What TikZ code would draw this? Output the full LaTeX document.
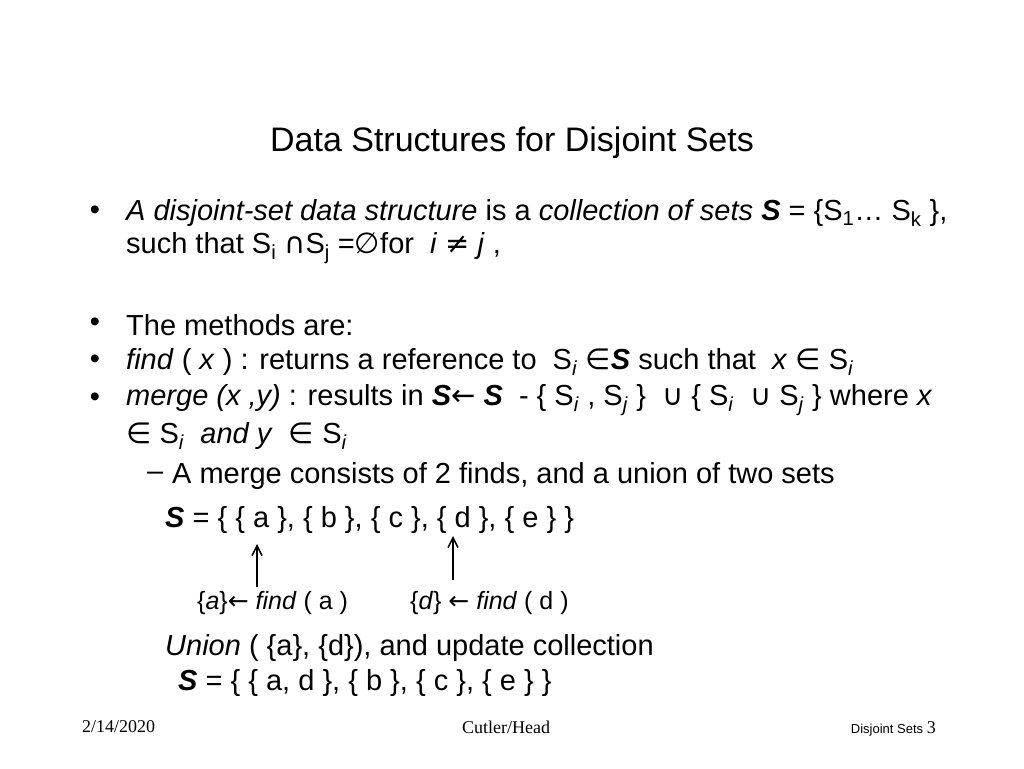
\documentclass[tikz,border=0pt]{standalone}
\usetikzlibrary{arrows.meta}
\usepackage{fontspec}
\setmainfont{Liberation Sans}
\newfontfamily\serifft{Liberation Serif}
\newfontfamily\sym{DejaVu Sans}
\newcommand{\sy}[1]{{\sym #1}}
\begin{document}
\begin{tikzpicture}[x=1pt,y=-1pt,
  txt/.style={anchor=west,inner sep=0pt,font=\fontsize{29}{33}\selectfont},
  small/.style={anchor=west,inner sep=0pt,font=\fontsize{25}{29}\selectfont},
  bul/.style={anchor=center,inner sep=0pt,font=\fontsize{29}{33}\selectfont},
  arr/.style={-{Straight Barb[length=10pt,width=10pt]},line width=1.5pt}]
\useasboundingbox (0,0) rectangle (1024,768);
\node[inner sep=0pt,font=\fontsize{34}{38}\selectfont] (title) at (512,143) {Data Structures for Disjoint Sets};
\node[bul] (b1) at (95,213) {•};
\node[txt] (l1) at (126,213) {\textit{A disjoint-set data structure} is a \textit{collection of sets} \textbf{\textit{S}} = \{S\textsubscript{1}… S\textsubscript{k} \},};
\node[txt] (l2) at (126,248) {such that S\textsubscript{i} \sy{∩}S\textsubscript{j} =\sy{∅}for \ \textit{i} \sy{≠} \textit{j} ,};
\node[bul] (b2) at (95,325) {•};
\node[txt] (l3) at (126,325) {The methods are:};
\node[bul] (b3) at (95,362) {•};
\node[txt] (l4) at (126,362) {\textit{find} ( \textit{x} ) : returns a reference to \ S\textsubscript{\textit{i}} \sy{∈}\textbf{\textit{S}} such that \ \textit{x} \sy{∈} S\textsubscript{\textit{i}}};
\node[bul] (b4) at (95,400) {•};
\node[txt] (l5) at (126,400) {\textit{merge (x ,y)} : results in \textbf{\textit{S}}\sy{←} \textbf{\textit{S}} \ - \{ S\textsubscript{\textit{i}} , S\textsubscript{\textit{j}} \} \ \sy{∪} \{ S\textsubscript{\textit{i}} \ \sy{∪} S\textsubscript{\textit{j}} \} where \textit{x}};
\node[txt] (l6) at (126,436) {\sy{∈} S\textsubscript{\textit{i}} \ \textit{and y} \ \sy{∈} S\textsubscript{\textit{i}}};
\node[txt] (d1) at (147,476) {–};
\node[txt] (l7) at (172,476) {A merge consists of 2 finds, and a union of two sets};
\node[txt] (l8) at (165,520) {\textbf{\textit{S}} = \{ \{ a \}, \{ b \}, \{ c \}, \{ d \}, \{ e \} \}};
\coordinate (a1) at (257,587);
\coordinate (a2) at (257,544);
\coordinate (c1) at (453,580);
\coordinate (c2) at (453,536);
\draw[arr] (a1) -- (a2);
\draw[arr] (c1) -- (c2);
\node[small] (fa) at (197,603) {\{\textit{a}\}\sy{←} \textit{find} ( a )};
\node[small] (fd) at (410,603) {\{\textit{d}\} \sy{←} \textit{find} ( d )};
\node[txt] (l9) at (165,648) {\textit{Union} ( \{a\}, \{d\}), and update collection};
\node[txt] (l10) at (178,683) {\textbf{\textit{S}} = \{ \{ a, d \}, \{ b \}, \{ c \}, \{ e \} \}};
\node[anchor=west,inner sep=0pt,font=\serifft\fontsize{18}{20}\selectfont] (date) at (82,727) {2/14/2020};
\node[inner sep=0pt,font=\serifft\fontsize{18}{20}\selectfont] (auth) at (506,727) {Cutler/Head};
\node[anchor=east,inner sep=0pt,font=\fontsize{13}{15}\selectfont] (pg) at (936,729) {Disjoint Sets {\fontsize{18}{20}\selectfont\serifft 3}};
\end{tikzpicture}
\end{document}
